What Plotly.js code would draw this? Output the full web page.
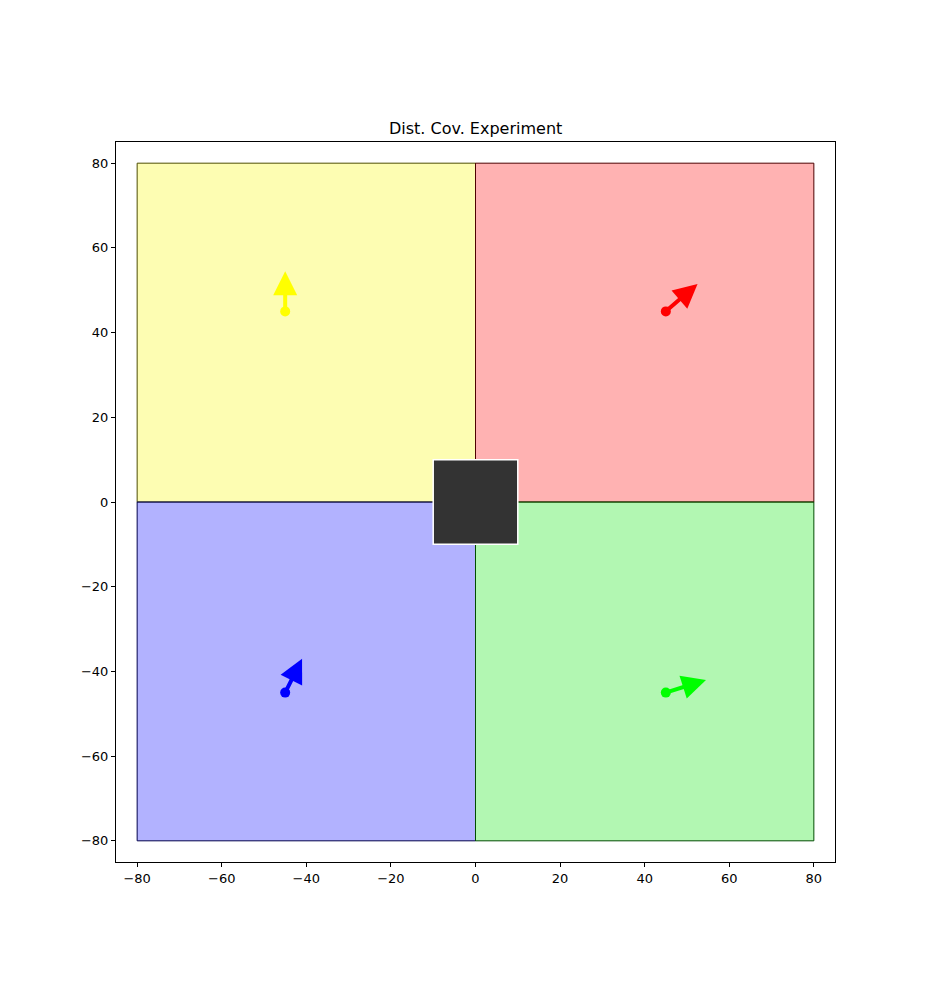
<!DOCTYPE html>
<html>
<head>
<meta charset="utf-8">
<script src="https://cdn.plot.ly/plotly-3.0.1.min.js"></script>
<style>body{margin:0;background:#fff}</style>
</head>
<body>
<div id="container" style="width:927px;height:994px"></div>
<script>
// quadrant regions
var regionX0 = [-80, 0, -80, 0];
var regionX1 = [0, 80, 0, 80];
var regionY0 = [0, 0, -80, -80];
var regionY1 = [80, 80, 0, 0];
var regionFill = ['rgba(247,247,0,0.3)', 'rgba(255,0,0,0.3)', 'rgba(0,0,255,0.3)', 'rgba(0,230,0,0.3)'];
var regionEdge = ['#4d4d00', '#4d0000', '#00004d', '#004d00'];

// obstacle
var obstacleX = [-10, 10];
var obstacleY = [-10, 10];

// agents and their heading vectors
var agentX = [-45, 45, -45, 45];
var agentY = [45, 45, -45, -45];
var tipX = [-45, 52.5, -41, 54.5];
var tipY = [54.5, 51.5, -37, -42];
var agentColor = ['#ffff00', '#ff0000', '#0000ff', '#00ff00'];

var shapes = [];
for (var i = 0; i < regionX0.length; i++) {
    shapes.push({
        type: 'rect', xref: 'x', yref: 'y', layer: 'below',
        x0: regionX0[i], x1: regionX1[i], y0: regionY0[i], y1: regionY1[i],
        fillcolor: regionFill[i], line: {color: regionEdge[i], width: 1}
    });
}
shapes.push({
    type: 'rect', xref: 'x', yref: 'y',
    x0: obstacleX[0], x1: obstacleX[1], y0: obstacleY[0], y1: obstacleY[1],
    fillcolor: '#333333', line: {color: '#ffffff', width: 1.5}
});

var annotations = [];
for (var j = 0; j < agentX.length; j++) {
    annotations.push({
        x: tipX[j], y: tipY[j], ax: agentX[j], ay: agentY[j],
        xref: 'x', yref: 'y', axref: 'x', ayref: 'y',
        text: '', showarrow: true, arrowhead: 2, arrowsize: 1.2,
        arrowwidth: 4, arrowcolor: agentColor[j]
    });
}

var data = [{
    x: agentX, y: agentY, mode: 'markers', type: 'scatter',
    marker: {color: agentColor, size: 10}, hoverinfo: 'none'
}];

var axisStyle = {
    range: [-85, 85], showgrid: false, zeroline: false,
    showline: true, mirror: true, linecolor: '#000', linewidth: 1,
    ticks: 'outside', ticklen: 4, tickcolor: '#000',
    dtick: 20, tick0: 0, tickfont: {size: 13, color: '#000'}
};

var layout = {
    width: 927, height: 994,
    margin: {l: 116, r: 92, t: 142, b: 132},
    paper_bgcolor: '#fff', plot_bgcolor: '#fff',
    font: {family: 'DejaVu Sans', color: '#000'},
    title: {text: 'Dist. Cov. Experiment', font: {size: 16}, x: 0.5131, xanchor: 'center', y: 0.871, yanchor: 'middle'},
    xaxis: Object.assign({}, axisStyle),
    yaxis: Object.assign({}, axisStyle),
    shapes: shapes, annotations: annotations,
    showlegend: false
};
Plotly.newPlot('container', data, layout, {displayModeBar: false});
</script>
</body>
</html>
